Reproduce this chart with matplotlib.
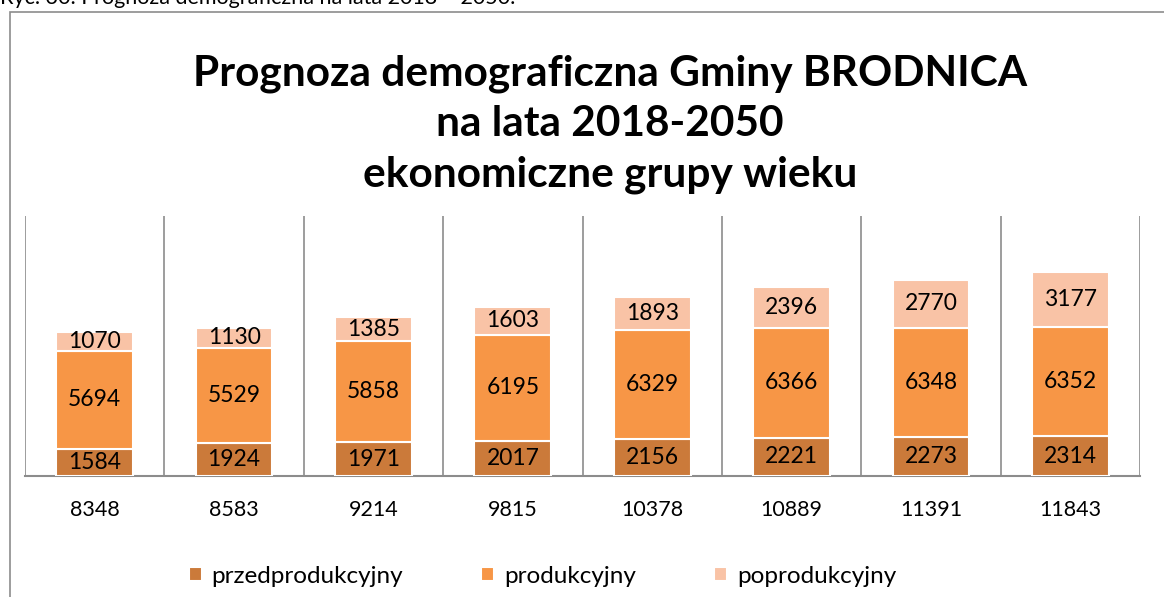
import matplotlib
matplotlib.use('Agg')
from matplotlib import pyplot as plt
from matplotlib.patches import Rectangle
import numpy as np

plt.rcParams['font.family'] = ['Lato', 'DejaVu Sans']

# dane
sumy = ['8348', '8583', '9214', '9815', '10378', '10889', '11391', '11843']
przedprodukcyjny = [1584, 1924, 1971, 2017, 2156, 2221, 2273, 2314]
produkcyjny = [5694, 5529, 5858, 6195, 6329, 6366, 6348, 6352]
poprodukcyjny = [1070, 1130, 1385, 1603, 1893, 2396, 2770, 3177]
serie = ['przedprodukcyjny', 'produkcyjny', 'poprodukcyjny']
kolory = ['#CB7A3A', '#F79646', '#F9C3A6']

fig = plt.figure(figsize=(11.64, 5.97), dpi=100)

# ramka wykresu (przycieta z prawej i od dolu)
fig.patches.append(Rectangle((10 / 1164, -0.1), 1.2, 1.1 - 12 / 597,
                             transform=fig.transFigure, fill=False,
                             edgecolor='#8c8c8c', linewidth=1.2))
# podpis ryciny - w oryginale uciety u gory
fig.text(0.0, 0.993, 'Ryc. 30. Prognoza demograficzna na lata 2018 – 2050.',
         fontsize=15.5, va='baseline', ha='left')

fig.text(0.524, 0.792,
         'Prognoza demograficzna Gminy BRODNICA\nna lata 2018-2050\nekonomiczne grupy wieku',
         fontsize=30.5, fontweight='bold', ha='center', va='center', linespacing=1.4)

ax = fig.add_axes([25 / 1164, 1 - 476 / 597, 1115 / 1164, 260 / 597])
x = np.arange(len(sumy))
dol = np.zeros(len(sumy))
for nazwa, wart, kol in zip(serie, [przedprodukcyjny, produkcyjny, poprodukcyjny], kolory):
    bars = ax.bar(x, wart, width=0.55, bottom=dol, color=kol, edgecolor='white',
                  linewidth=1.5, label=nazwa, zorder=3)
    ax.bar_label(bars, labels=[str(v) for v in wart], label_type='center', fontsize=16.5)
    dol += np.array(wart)

ax.set_xlim(-0.5, len(sumy) - 0.5)
ax.set_ylim(0, 15100)
for b in np.arange(-0.5, len(sumy), 1.0):
    ax.axvline(b, color='#8c8c8c', linewidth=1.2, zorder=1)
ax.set_xticks(x)
ax.set_xticklabels(sumy, fontsize=15.5)
ax.tick_params(axis='x', length=0, pad=17)
ax.set_yticks([])
for s in ['top', 'right', 'left']:
    ax.spines[s].set_visible(False)
ax.spines['bottom'].set_color('#8c8c8c')
ax.spines['bottom'].set_linewidth(1.5)

fig.legend(loc='center', bbox_to_anchor=(0.466, 0.035), ncol=3, frameon=False,
           fontsize=17.5, handlelength=0.55, handleheight=0.55, handletextpad=0.4,
           columnspacing=3.2)

plt.savefig('out.png', dpi=100)
